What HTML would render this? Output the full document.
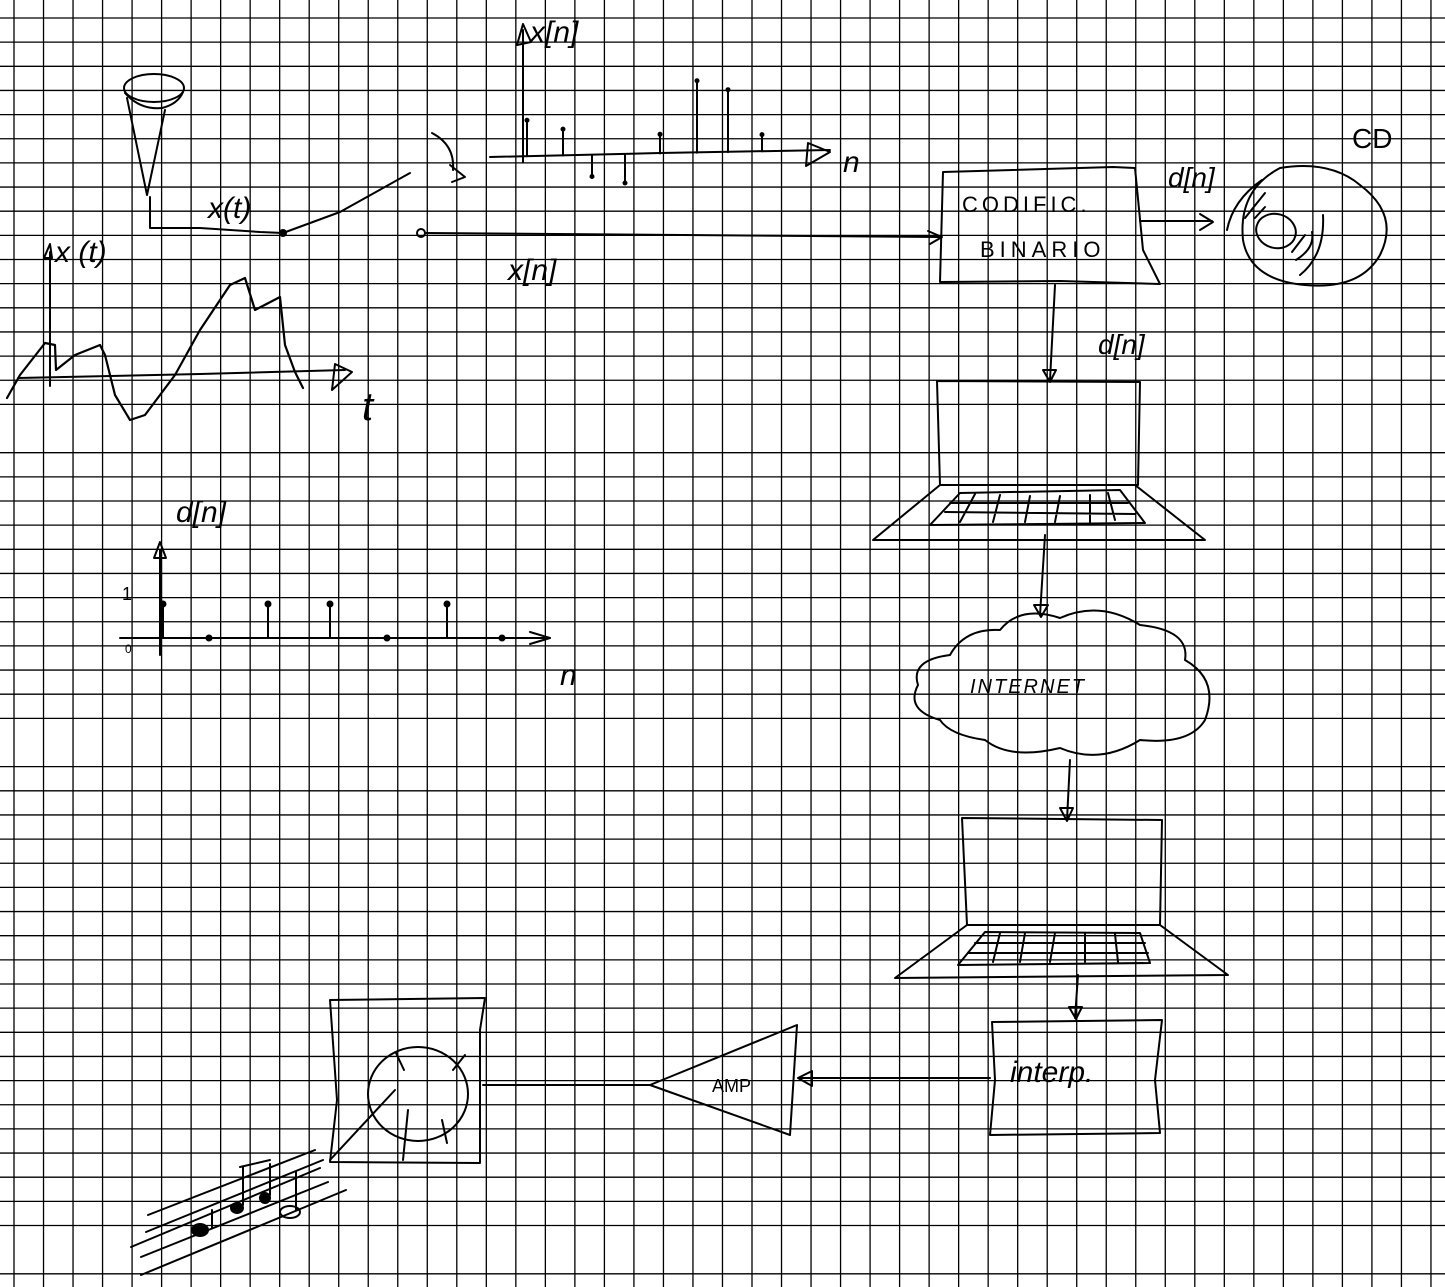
<!DOCTYPE html>
<html><head><meta charset="utf-8">
<style>
html,body{margin:0;padding:0;background:#fff;}
svg{display:block;}
text{font-family:"Liberation Sans","DejaVu Sans",sans-serif;fill:#000;stroke:none;}
</style></head>
<body>
<svg id="s" width="1445" height="1287" viewBox="0 0 1445 1287" xmlns="http://www.w3.org/2000/svg">
<g id="grid" stroke="#000" stroke-width="1.3"></g>
<g fill="none" stroke="#000" stroke-width="2" stroke-linecap="round" stroke-linejoin="round">
<g>
<ellipse cx="154" cy="88" rx="30" ry="14"/>
<path d="M125 93 Q140 110 162 108 Q178 104 183 92"/>
<path d="M127 98 L147 195 L165 110"/>
<path d="M150 197 L150 228 L200 228 L260 232 L283 233"/>
<circle cx="283" cy="233" r="3" fill="#000"/>
<path d="M283 233 L340 212 L410 173"/>
</g>
<text x="208" y="218" font-size="30" font-style="italic">x(t)</text>
<g>
<path d="M50 386 L50 252"/><path d="M44 258 L50 244 L52 258Z"/>
<path d="M18 378 L200 374 L345 370"/>
<path d="M335 364 L352 372 L332 390 Z"/>
<polyline id="wave" stroke-width="2.2"/>
</g>
<text x="55" y="262" font-size="30" font-style="italic">x (t)</text>
<text x="362" y="420" font-size="40" font-style="italic">t</text>
<path d="M432 133 Q455 145 453 170"/>
<path d="M450 165 L465 177 L452 182" />
<circle cx="421" cy="233" r="4"/>
<path d="M425 233 L940 237"/>
<path d="M928 231 L942 237 L930 244"/>
<text x="508" y="280" font-size="30" font-style="italic">x[n]</text>
<g id="topstem">
<path d="M523 162 L523 30"/><path d="M517 45 L523 24 L531 42Z"/>
<path d="M490 157 L660 153 L830 150"/>
<path d="M808 143 L830 152 L806 166 Z"/>
</g>
<text x="530" y="42" font-size="30" font-style="italic">x[n]</text>
<text x="843" y="172" font-size="30" font-style="italic">n</text>
<g>
<path d="M943 172 L1113 167 L1135 168 L1143 250 L1160 284 L1060 281 L940 282 L943 172"/>
</g>
<text x="962" y="212" font-size="22" letter-spacing="4">CODIFIC.</text>
<text x="980" y="257" font-size="22" letter-spacing="5">BINARIO</text>
<path d="M1140 221 L1212 221"/><path d="M1200 214 L1213 222 L1200 230"/>
<text x="1168" y="187" font-size="28" font-style="italic">d[n]</text>
<g>
<path d="M1280 168 Q1330 160 1360 185 Q1400 215 1380 255 Q1360 290 1305 285 Q1250 280 1243 240 Q1238 190 1280 168Z"/>
<ellipse cx="1276" cy="231" rx="20" ry="17" transform="rotate(15 1276 231)"/>
<path d="M1227 230 Q1233 200 1262 180"/><path d="M1245 218 L1265 193"/><path d="M1255 218 L1265 207"/>
<path d="M1300 275 Q1325 255 1323 215"/><path d="M1296 260 Q1315 248 1312 232"/><path d="M1292 252 L1305 235"/>
</g>
<text x="1352" y="148" font-size="28">CD</text>
<path d="M1055 285 L1050 380"/><path d="M1043 370 L1050 382 L1056 370Z"/>
<text x="1098" y="354" font-size="28" font-style="italic">d[n]</text>
<g>
<path d="M937 381 L1140 382 L1138 485 L940 485 Z"/>
<path d="M940 485 L873 540 L1205 540 L1135 485"/>
<path d="M960 493 L1120 490 L1145 523 L930 525 Z"/>
<path d="M950 503 L1128 503 M945 512 L1135 514 M975 494 L960 522 M1000 495 L993 522 M1030 496 L1025 522 M1060 496 L1055 522 M1090 495 L1090 522 M1108 493 L1115 520"/>
</g>
<path d="M1045 535 L1040 615"/><path d="M1034 605 L1041 617 L1048 605Z"/>
<path d="M1000 630 Q1020 605 1060 618 Q1100 600 1140 625 Q1190 630 1185 660 Q1220 680 1205 720 Q1190 745 1140 740 Q1100 765 1060 748 Q1010 760 985 740 Q950 735 940 720 Q905 710 918 685 Q910 660 950 655 Q965 628 1000 630Z"/>
<text x="970" y="693" font-size="20" letter-spacing="2" font-style="italic">INTERNET</text>
<path d="M1070 760 L1067 820"/><path d="M1060 808 L1067 821 L1073 808Z"/>
<g>
<path d="M962 818 L1162 820 L1160 925 L967 925 Z"/>
<path d="M967 925 L895 978 L1228 975 L1160 925"/>
<path d="M985 932 L1140 933 L1150 963 L958 965 Z"/>
<path d="M975 943 L1145 943 M968 953 L1148 953 M1000 933 L993 962 M1025 933 L1020 962 M1055 933 L1050 962 M1085 934 L1085 962 M1115 934 L1118 962"/>
</g>
<path d="M1078 975 L1075 1018"/><path d="M1069 1007 L1076 1019 L1082 1007Z"/>
<path d="M992 1022 L1162 1020 L1155 1080 L1160 1133 L990 1135 L995 1080 Z"/>
<text x="1010" y="1082" font-size="30" font-style="italic">interp.</text>
<path d="M990 1078 L800 1078"/><path d="M812 1071 L798 1078 L812 1086 Z"/>
<path d="M650 1085 L797 1025 L790 1135 Z"/>
<text x="712" y="1092" font-size="18">AMP</text>
<path d="M650 1085 L483 1085"/>
<g>
<path d="M330 1000 L485 998 L480 1030 L480 1163 L330 1162 L337 1100 Z"/>
<ellipse cx="418" cy="1094" rx="50" ry="47"/>
<path d="M396 1053 L404 1070 M465 1055 L453 1070 M408 1110 L403 1160 M442 1120 L447 1143 M395 1090 L330 1160"/>
</g>
<g>
<path d="M148 1215 L315 1150 M146 1232 L323 1160 M131 1247 L320 1168 M141 1257 L328 1182 M141 1275 L346 1190"/>
<ellipse cx="200" cy="1230" rx="8" ry="6" fill="#000"/>
<ellipse cx="237" cy="1208" rx="6" ry="5" fill="#000"/>
<ellipse cx="265" cy="1198" rx="5" ry="5" fill="#000"/>
<ellipse cx="290" cy="1212" rx="10" ry="6"/>
<path d="M212 1210 L212 1228 M243 1167 L243 1205 M270 1164 L270 1195 M296 1172 L296 1210 M240 1167 L270 1160"/>
</g>
<g id="dstem">
<path d="M160 655 L160 550"/><path d="M154 558 L160 542 L166 558 Z"/>
<path d="M120 638 L550 638"/><path d="M530 632 L550 638 L530 644"/>
</g>
<text x="176" y="522" font-size="30" font-style="italic">d[n]</text>
<text x="122" y="600" font-size="18">1</text>
<text x="125" y="653" font-size="12">0</text>
<text x="560" y="685" font-size="30" font-style="italic">n</text>
</g>
</svg>
<script>
// waveform samples of x(t) (x px, y px)
const waveT = [7,20,45,55,56,75,100,105,115,130,145,175,200,230,245,255,280,285,295,303];
const waveV = [398,375,343,345,370,355,345,355,395,420,415,375,330,285,278,310,297,345,372,388];
// top discrete x[n] stems
const xnPos = [527,563,592,625,660,697,728,762];
const xnVal = [1.5,1.1,-0.9,-1.2,0.8,3.0,2.6,0.7];
// d[n] binary stems
const dnPos = [163,209,268,330,387,447,502];
const dnVal = [1,0,1,1,0,1,0];
const NS='http://www.w3.org/2000/svg';
const grid=document.getElementById('grid');
for(let k=0;k<50;k++){const x=14+29.52*k; if(x>1445)break;
 const l=document.createElementNS(NS,'line');
 
 
 l.setAttribute('x1',x);l.setAttribute('x2',x);l.setAttribute('y1',0);l.setAttribute('y2',1287);grid.appendChild(l);}
const skip=[17,30,51];
for(let k=0;k<54;k++){const y=18+24.15*k; if(y>1287)break; if(skip.includes(k))continue;
 const l=document.createElementNS(NS,'line');
 
 
 l.setAttribute('x1',0);l.setAttribute('x2',1445);l.setAttribute('y1',y);l.setAttribute('y2',y);grid.appendChild(l);}
document.getElementById('wave').setAttribute('points',waveT.map((t,i)=>t+','+waveV[i]).join(' '));
const topG=document.getElementById('topstem');
const baseY=x=>157-(x-490)*7/340;
xnPos.forEach((x,i)=>{const b=baseY(x),e=b-xnVal[i]*24;
 const p=document.createElementNS(NS,'path');
 
 
 p.setAttribute('d',`M${x} ${b} L${x} ${e}`);topG.appendChild(p);
 const c=document.createElementNS(NS,'circle');
 
 
 c.setAttribute('cx',x);c.setAttribute('cy',e);c.setAttribute('r',1.5);c.setAttribute('fill','#000');topG.appendChild(c);});
const dG=document.getElementById('dstem');
const dy=v=>638-v*34;
dnPos.forEach((x,i)=>{
 const p=document.createElementNS(NS,'path');
 
 
 p.setAttribute('d',`M${x} 638 L${x} ${dy(dnVal[i])}`);dG.appendChild(p);
 const c=document.createElementNS(NS,'circle');
 
 
 c.setAttribute('cx',x);c.setAttribute('cy',dy(dnVal[i]));c.setAttribute('r',2.5);c.setAttribute('fill','#000');dG.appendChild(c);});
</script>
</body></html>
